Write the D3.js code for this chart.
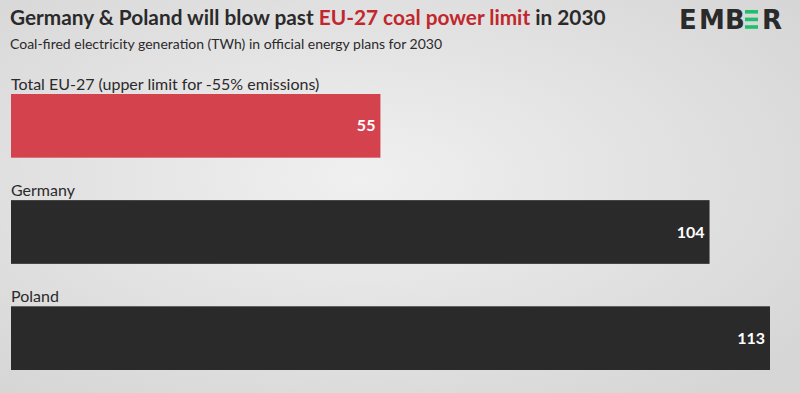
<!DOCTYPE html>
<html>
<head>
<meta charset="utf-8">
<script src="https://cdn.jsdelivr.net/npm/d3@7"></script>
<style>
  body { margin: 0; }
  svg { display: block; font-family: Lato, sans-serif; }
</style>
</head>
<body>
<div id="chart"></div>
<script>
var categories = ['Total EU-27 (upper limit for -55% emissions)', 'Germany', 'Poland']
var values = [55, 104, 113]
var barColors = ['#d4424e', '#2b2a2b', '#2b2a2b']

var width = 800
var height = 393

var svg = d3.select('#chart')
  .append('svg')
  .attr('width', width)
  .attr('height', height)

// Light grey background, brighter in the middle
var defs = svg.append('defs')
var grad = defs.append('radialGradient')
  .attr('id', 'bg')
  .attr('cx', '45%').attr('cy', '45%').attr('r', '70%')
grad.append('stop').attr('offset', '0%').attr('stop-color', '#f0f0f0')
grad.append('stop').attr('offset', '100%').attr('stop-color', '#d6d6d6')

svg.append('rect')
  .attr('width', width)
  .attr('height', height)
  .attr('fill', 'url(#bg)')

// Title with the red part in the middle
var title = svg.append('text')
  .attr('x', 10)
  .attr('y', 25)
  .attr('font-size', 20.8)
  .attr('font-weight', 700)
  .attr('fill', '#2b2a2b')
title.append('tspan').text('Germany & Poland will blow past ')
title.append('tspan').attr('fill', '#c1272d').text('EU-27 coal power limit')
title.append('tspan').text(' in 2030')

svg.append('text')
  .attr('x', 10)
  .attr('y', 49)
  .attr('font-size', 14)
  .attr('fill', '#2b2a2b')
  .text('Coal-fired electricity generation (TWh) in official energy plans for 2030')

// Ember logo: the second E is three green bars
var logo = svg.append('g').attr('transform', 'translate(0,29)')
logo.selectAll('text')
  .data([['E', 679], ['M', 699], ['B', 725], ['R', 762]])
  .enter().append('text')
  .attr('x', d => d[1])
  .attr('font-family', 'DejaVu Sans')
  .attr('font-size', 26)
  .attr('font-weight', 700)
  .attr('fill', '#2b2a2b')
  .text(d => d[0])
logo.selectAll('rect')
  .data([0, 1, 2])
  .enter().append('rect')
  .attr('x', 745)
  .attr('y', d => -19 + d * 7.6)
  .attr('width', 13)
  .attr('height', 3.6)
  .attr('fill', '#20bf6b')

// Scales
var xScale = d3.scaleLinear().domain([0, 113]).range([11, 770])
var yScale = d3.scaleBand()
  .domain(categories)
  .range([94, 370])
  .paddingInner(0.4)
  .paddingOuter(0)

var rows = svg.append('g')
  .selectAll('g')
  .data(categories)
  .enter().append('g')

rows.append('rect')
  .attr('x', xScale(0))
  .attr('y', d => yScale(d))
  .attr('width', (d, i) => xScale(values[i]) - xScale(0))
  .attr('height', yScale.bandwidth())
  .attr('fill', (d, i) => barColors[i])

rows.append('text')
  .attr('x', xScale(0))
  .attr('y', d => yScale(d) - 4)
  .attr('font-size', 16)
  .attr('fill', '#2b2a2b')
  .text(d => d)

rows.append('text')
  .attr('x', (d, i) => xScale(values[i]) - 5)
  .attr('y', d => yScale(d) + yScale.bandwidth() / 2)
  .attr('dy', '0.35em')
  .attr('text-anchor', 'end')
  .attr('font-size', 16)
  .attr('font-weight', 700)
  .attr('fill', '#ffffff')
  .text((d, i) => values[i])
</script>
</body>
</html>
